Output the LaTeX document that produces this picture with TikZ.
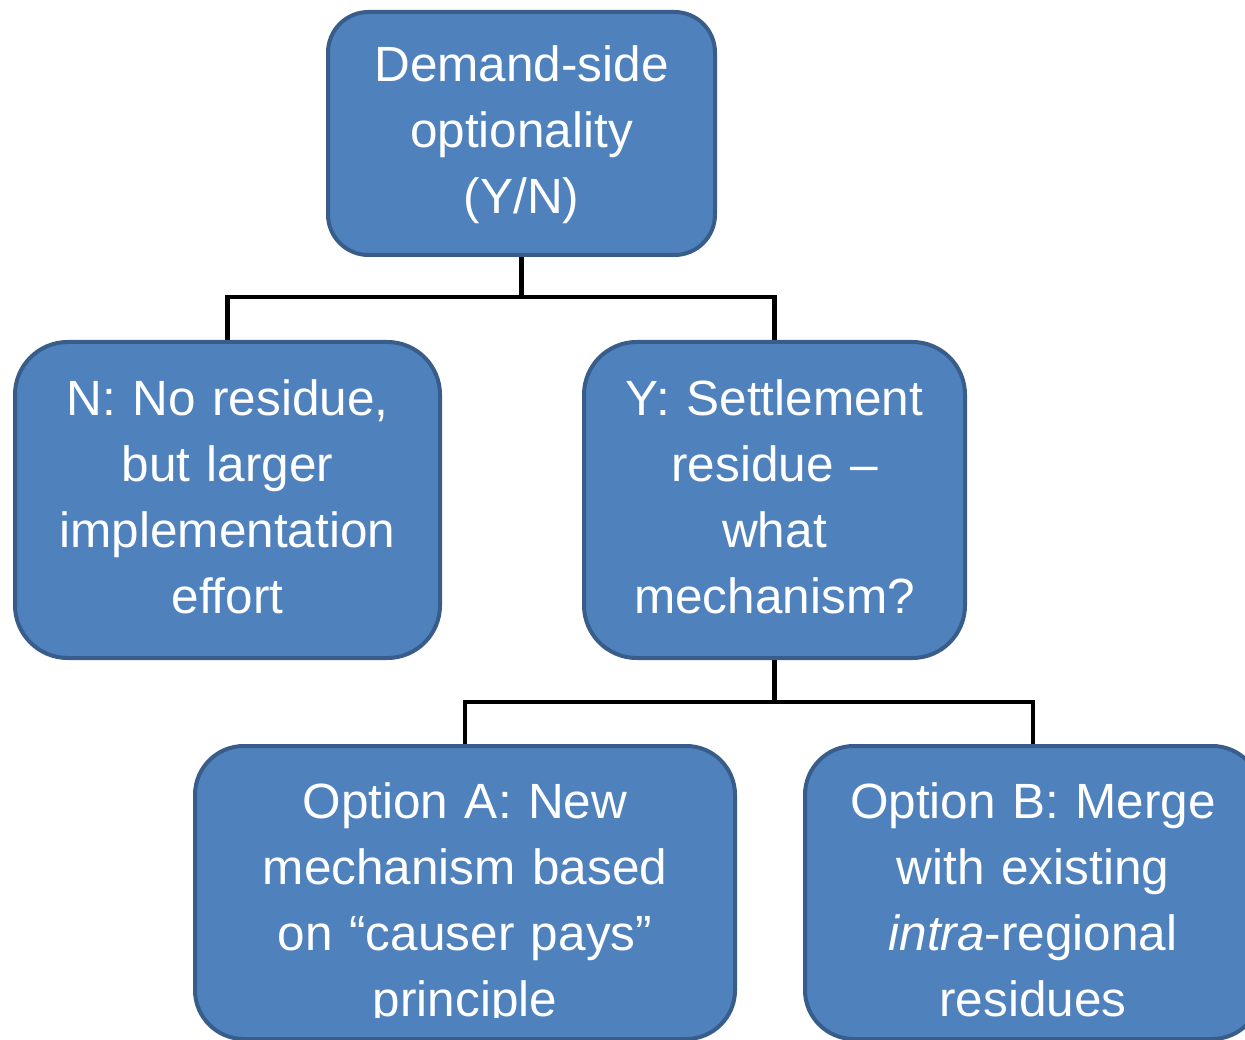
\documentclass[tikz,border=0pt]{standalone}
\usepackage{fontspec}
\setmainfont{Liberation Sans}
\definecolor{boxfill}{HTML}{4F81BD}
\definecolor{boxline}{HTML}{385D8A}
\pgfdeclarelayer{background}
\pgfsetlayers{background,main}
\begin{document}
\begin{tikzpicture}[x=1pt,y=-1pt,
  box/.style={shape=rectangle, draw=boxline, fill=boxfill, line width=4pt, inner sep=0pt},
  txt/.style={text=white, anchor=north, inner sep=0pt, text width=640pt, align=center,
    font=\fontsize{49.5}{66}\selectfont},
  conn/.style={draw=black, line width=4.5pt, line cap=rect}]
\useasboundingbox (0,0) rectangle (1245,1040);
\clip (0,0) rectangle (1245,1040);
% boxes
\node[box, rounded corners=40.5pt, minimum width=387pt, minimum height=243pt] (top) at (521.5,133.5) {};
\node[box, rounded corners=52.7pt, minimum width=425pt, minimum height=316pt] (no) at (227.5,500) {};
\node[box, rounded corners=52.7pt, minimum width=381pt, minimum height=316pt] (yes) at (774.5,500) {};
\node[box, rounded corners=48.8pt, minimum width=540pt, minimum height=293pt] (optA) at (465,892.5) {};
\node[box, rounded corners=48.8pt, minimum width=456pt, minimum height=293pt] (optB) at (1033,892.5) {};
% connector junction coordinates
\coordinate (j1) at (top.south |- 0,297);
\coordinate (j2) at (yes.south |- 0,702);
% connectors (behind the boxes)
\begin{pgfonlayer}{background}
\draw[conn] (top.south) -- (j1);
\draw[conn] (no.north) |- (j1) -| (yes.north);
\draw[conn] (yes.south) -- (j2);
\draw[conn] (optA.north) |- (j2) -| (optB.north);
\end{pgfonlayer}
% texts
\node[txt] (topT) at (521.5,45.5) {Demand-side\\optionality\\(Y/N)};
\node[txt] (noT) at (227.5,379.5) {N: No residue,\\but larger\\implementation\\effort};
\node[txt] (yesT) at (774.5,379.5) {Y: Settlement\\residue –\\what\\mechanism?};
\begin{scope}
\clip (150,740) rectangle (1245,1017);
\node[txt] (optAT) at (465,782.5) {Option A: New\\mechanism based\\on “causer pays”\\principle};
\node[txt] (optBT) at (1033,782.5) {Option B: Merge\\with existing\\\textit{intra}-regional\\residues};
\end{scope}
\end{tikzpicture}
\end{document}
